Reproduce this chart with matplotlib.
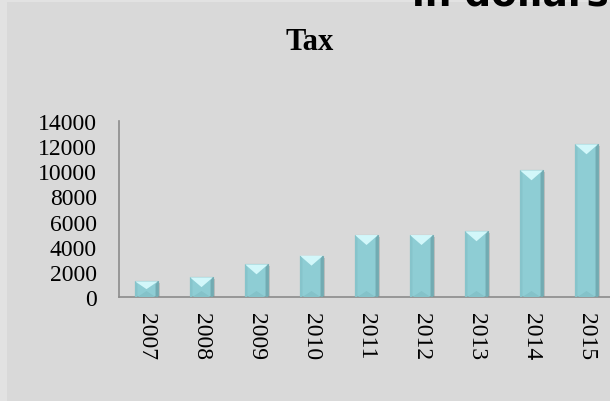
import matplotlib
matplotlib.use("Agg")
import matplotlib.pyplot as plt
from matplotlib.patches import Rectangle, Polygon

# data
years = ["2007", "2008", "2009", "2010", "2011", "2012", "2013", "2014", "2015"]
tax = [1250, 1570, 2600, 3290, 4930, 4930, 5230, 10080, 12150]
y_ticks = [0, 2000, 4000, 6000, 8000, 10000, 12000, 14000]

BG = "#d9d9d9"
BAR = "#8ecdd4"

fig = plt.figure(figsize=(6.1, 4.02), dpi=100)
fig.patch.set_facecolor("#e2e2e2")
fig.patches.append(Rectangle((7 / 610, 0), 1, 1 - 3 / 402, transform=fig.transFigure,
                             facecolor=BG, edgecolor="none", zorder=-5))

ax = fig.add_axes([119 / 610, 1 - 298 / 402, 495 / 610, 176 / 402])
ax.set_facecolor(BG)
ax.set_zorder(2)

x = list(range(len(years)))
bars = ax.bar(x, tax, width=0.42, color=BAR, edgecolor="#78aeb4", linewidth=0.8, zorder=2)

ax.set_xlim(-0.5, len(years) - 0.5)
ax.set_ylim(0, 14000)

# bevel look: light top triangle, shaded sides, soft shadow
px_y = 14000 / 176.0
px_x = len(years) / 495.0
for b in bars:
    x0, w, h = b.get_x(), b.get_width(), b.get_height()
    x1, xc = x0 + w, x0 + w / 2
    dh = min(10 * px_y, h / 2)
    e = 2.5 * px_x
    ax.add_patch(Rectangle((x0 + 2 * px_x, 0), w, h - 2 * px_y, facecolor="#bdbdbd",
                           edgecolor="none", zorder=1.5))
    ax.add_patch(Polygon([(x0, h), (x1, h), (xc, h - dh)], closed=True,
                         facecolor="#d2f7fa", edgecolor="none", zorder=3))
    ax.add_patch(Polygon([(x0, h), (x0 + e, h - 3 * px_y), (x0 + e, 0), (x0, 0)],
                         closed=True, facecolor="#86c4cb", edgecolor="none", zorder=3))
    ax.add_patch(Polygon([(x1, h), (x1 - e, h - 3 * px_y), (x1 - e, 0), (x1, 0)],
                         closed=True, facecolor="#72abb2", edgecolor="none", zorder=3))
    ax.add_patch(Polygon([(x0 + e, 0), (x1 - e, 0), (xc, 6 * px_y)], closed=True,
                         facecolor="#84c2c9", edgecolor="none", zorder=3))

for s in ["top", "right"]:
    ax.spines[s].set_visible(False)
for s in ["left", "bottom"]:
    ax.spines[s].set_color("#8c8c8c")
    ax.spines[s].set_linewidth(1.2)

ax.set_yticks(y_ticks)
ax.set_yticklabels([str(v) for v in y_ticks], family="Liberation Serif", fontsize=17)
ax.set_xticks(x)
ax.set_xticklabels(years, family="Liberation Serif", fontsize=17, rotation=-90)
ax.tick_params(axis="y", length=0, pad=16)
ax.tick_params(axis="x", length=0, pad=11)

fig.text(310 / 610, 1 - 43 / 402, "Tax", ha="center", va="center",
         family="Liberation Serif", fontweight="bold", fontsize=22)
fig.text(412 / 610, 1 - 5 / 402, "in dollars", ha="left", va="baseline",
         family="DejaVu Sans", fontweight="bold", fontsize=27)

fig.savefig("out.png", dpi=100, facecolor=fig.get_facecolor())
